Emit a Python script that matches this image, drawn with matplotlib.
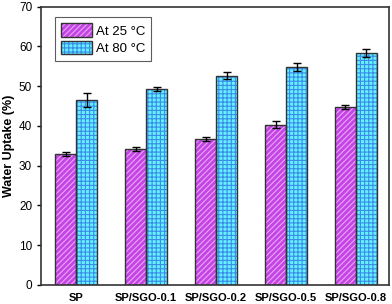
import numpy as np
import matplotlib.pyplot as plt

plt.rcParams['font.family'] = ['Liberation Sans', 'DejaVu Sans']

samples = ['SP', 'SP/SGO-0.1', 'SP/SGO-0.2', 'SP/SGO-0.5', 'SP/SGO-0.8']
uptake_25 = [33.0, 34.2, 36.7, 40.3, 44.8]
err_25 = [0.5, 0.5, 0.5, 0.9, 0.5]
uptake_80 = [46.5, 49.2, 52.6, 54.8, 58.3]
err_80 = [1.8, 0.5, 0.9, 1.0, 1.0]

fig, ax = plt.subplots(figsize=(3.92, 3.04), dpi=100)
fig.subplots_adjust(left=0.105, right=0.992, top=0.978, bottom=0.063)

x = np.arange(len(samples))
w = 0.3

# fill + hatch first, then outline on top (hatch colour differs from edge)
plt.rcParams['hatch.linewidth'] = 0.8
f1 = ax.bar(x - w / 2, uptake_25, w, color='#c444e4', edgecolor='#eaa6f8', hatch='//////', linewidth=0)
f2 = ax.bar(x + w / 2, uptake_80, w, color='#66f0ff', edgecolor='#3a8ce8', hatch='++++', linewidth=0)
o1 = ax.bar(x - w / 2, uptake_25, w, fill=False, edgecolor='#333333', linewidth=1.0)
o2 = ax.bar(x + w / 2, uptake_80, w, fill=False, edgecolor='#333333', linewidth=1.0)
ax.errorbar(x - w / 2, uptake_25, yerr=err_25, fmt='none', ecolor='black', elinewidth=1.0, capsize=3, capthick=1.0)
ax.errorbar(x + w / 2, uptake_80, yerr=err_80, fmt='none', ecolor='black', elinewidth=1.0, capsize=3, capthick=1.0)

leg = ax.legend([(f1[0], o1[0]), (f2[0], o2[0])], ['At 25 °C', 'At 80 °C'],
                loc='upper left', bbox_to_anchor=(0.02, 0.985),
                fancybox=False, edgecolor='#333333', fontsize=9.5, handlelength=2.4, handleheight=1.2,
                borderpad=0.45, labelspacing=0.25, handletextpad=0.25)
leg.get_frame().set_linewidth(0.8)

ax.set_xlim(-0.5, 4.47)
ax.set_ylim(0, 70)
ax.set_yticks(range(0, 71, 10))
ax.set_xticks(x)
ax.set_xticklabels(samples, fontweight='bold', fontsize=8)
ax.tick_params(axis='x', length=0, pad=6)
ax.tick_params(axis='y', labelsize=8.5, length=3, width=1)
ax.set_ylabel('Water Uptake (%)', fontweight='bold', fontsize=9, labelpad=3)
for s in ax.spines.values():
    s.set_linewidth(1.2)
    s.set_color('#333333')

fig.savefig('out.png', dpi=100)
